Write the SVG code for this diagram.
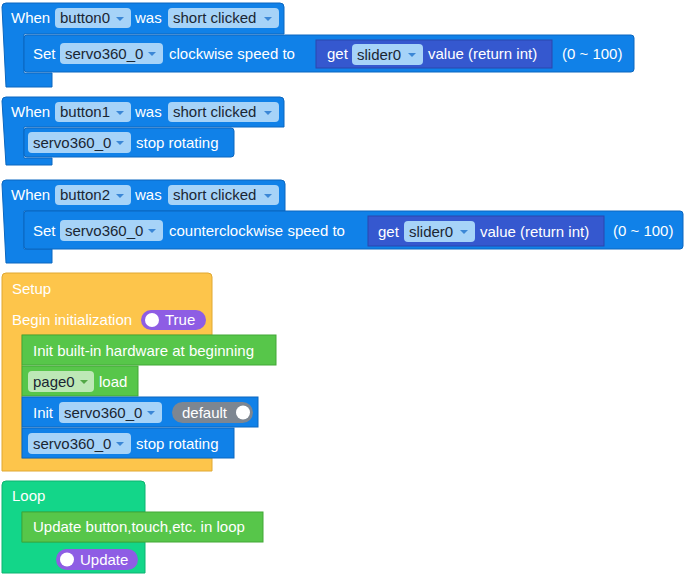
<svg xmlns="http://www.w3.org/2000/svg" width="689" height="580" viewBox="0 0 689 580">
<style>
text{font-family:"Liberation Sans",Arial,sans-serif;font-size:15px;fill:#fff}
text.d{fill:#1a2633}
.blue{fill:#1081e8;stroke:#0b67c0;stroke-width:1}
.dk{fill:#3558cf;stroke:#2a47ad;stroke-width:1}
.or{fill:#fdc54b;stroke:#e0a832;stroke-width:1}
.gr{fill:#57c64a;stroke:#43a836;stroke-width:1}
.lp{fill:#13d689;stroke:#0db470;stroke-width:1}
.fb{fill:#a6d3f8}
.fg{fill:#bde8b6}
.ar{fill:#3b87d6}
.arg{fill:#52a846}
.pu{fill:#8e5de4}
.gy{fill:#7d8691}
</style>
<defs>
<path id="dd" d="M0,0 h8 l-4,4 z"/>
</defs>
<g id="connectors"></g>
<g id="when0">
<path class="blue" d="M2,7 a4,4 0 0 1 4,-4 h274 a4,4 0 0 1 4,4 v27 h-260 v39 h28 v14 h-46 z"/>
<rect class="blue" x="24" y="35" width="610" height="37" rx="3"/>
<text x="11" y="23">When</text>
<rect class="fb" x="55" y="8" width="76" height="20" rx="4"/><text class="d" x="60" y="23">button0</text><use href="#dd" class="ar" x="116" y="17"/>
<text x="135" y="23">was</text>
<rect class="fb" x="168" y="8" width="111" height="20" rx="4"/><text class="d" x="173" y="23">short clicked</text><use href="#dd" class="ar" x="264" y="17"/>
<text x="33" y="59">Set</text>
<rect class="fb" x="60" y="43" width="103" height="21" rx="4"/><text class="d" x="65" y="59">servo360_0</text><use href="#dd" class="ar" x="148" y="52"/>
<text x="169" y="59">clockwise speed to</text>
<rect class="dk" x="316" y="40" width="236" height="28"/>
<text x="327" y="59">get</text>
<rect class="fb" x="352" y="44" width="71" height="21" rx="4"/><text class="d" x="357" y="60">slider0</text><use href="#dd" class="ar" x="408" y="53"/>
<text x="428" y="59">value (return int)</text>
<text x="562" y="59">(0 ~ 100)</text>
</g>
<g id="when1">
<path class="blue" d="M2,101 a4,4 0 0 1 4,-4 h274 a4,4 0 0 1 4,4 v26 h-260 v31 h28 v7 h-46 z"/>
<rect class="blue" x="24" y="128" width="210" height="29" rx="3"/>
<text x="11" y="117">When</text>
<rect class="fb" x="55" y="102" width="76" height="20" rx="4"/><text class="d" x="60" y="117">button1</text><use href="#dd" class="ar" x="116" y="111"/>
<text x="135" y="117">was</text>
<rect class="fb" x="168" y="102" width="111" height="20" rx="4"/><text class="d" x="173" y="117">short clicked</text><use href="#dd" class="ar" x="264" y="111"/>
<rect class="fb" x="28" y="132" width="103" height="21" rx="4"/><text class="d" x="33" y="148">servo360_0</text><use href="#dd" class="ar" x="116" y="141"/>
<text x="136" y="148">stop rotating</text>
</g>
<g id="when2">
<path class="blue" d="M2,184 a4,4 0 0 1 4,-4 h275 a4,4 0 0 1 4,4 v27 h-261 v38 h28 v14 h-46 z"/>
<rect class="blue" x="24" y="211" width="659" height="38" rx="3"/>
<text x="11" y="200">When</text>
<rect class="fb" x="55" y="185" width="76" height="20" rx="4"/><text class="d" x="60" y="200">button2</text><use href="#dd" class="ar" x="116" y="194"/>
<text x="135" y="200">was</text>
<rect class="fb" x="168" y="185" width="111" height="20" rx="4"/><text class="d" x="173" y="200">short clicked</text><use href="#dd" class="ar" x="264" y="194"/>
<text x="33" y="236">Set</text>
<rect class="fb" x="60" y="220" width="103" height="21" rx="4"/><text class="d" x="65" y="236">servo360_0</text><use href="#dd" class="ar" x="148" y="229"/>
<text x="169" y="236">counterclockwise speed to</text>
<rect class="dk" x="368" y="216" width="236" height="30"/>
<text x="378" y="237">get</text>
<rect class="fb" x="404" y="221" width="71" height="21" rx="4"/><text class="d" x="409" y="237">slider0</text><use href="#dd" class="ar" x="460" y="230"/>
<text x="480" y="237">value (return int)</text>
<text x="613" y="236">(0 ~ 100)</text>
</g>
<g id="setup">
<path class="or" d="M2,277 a4,4 0 0 1 4,-4 h202 a4,4 0 0 1 4,4 v58 h-190 v123 h190 v13 h-210 z"/>
<text x="12" y="294">Setup</text>
<text x="12" y="325">Begin initialization</text>
<rect class="pu" x="141" y="310" width="65" height="20" rx="10"/><circle cx="152" cy="320" r="7" fill="#fff"/><text x="165" y="325">True</text>
</g>
<g id="initHw"><rect class="gr" x="22" y="335" width="254" height="30"/><text x="33" y="356">Init built-in hardware at beginning</text></g>
<g id="page0"><rect class="gr" x="22" y="366" width="116" height="30"/><rect class="fg" x="28" y="371" width="66" height="21" rx="4"/><text class="d" x="33" y="387">page0</text><use href="#dd" class="arg" x="80" y="380"/><text x="99" y="387">load</text></g>
<g id="initServo"><rect class="blue" x="22" y="397" width="236" height="30"/><text x="33" y="418">Init</text><rect class="fb" x="59" y="402" width="103" height="21" rx="4"/><text class="d" x="64" y="418">servo360_0</text><use href="#dd" class="ar" x="147" y="411"/><rect class="gy" x="172" y="402" width="81" height="21" rx="10.5"/><text x="182" y="418">default</text><circle cx="243" cy="412.5" r="7" fill="#fff"/></g>
<g id="stopServo"><rect class="blue" x="22" y="428" width="212" height="30"/><rect class="fb" x="28" y="433" width="103" height="21" rx="4"/><text class="d" x="33" y="449">servo360_0</text><use href="#dd" class="ar" x="116" y="442"/><text x="136" y="449">stop rotating</text></g>
<g id="loop">
<path class="lp" d="M2,485 a4,4 0 0 1 4,-4 h135 a4,4 0 0 1 4,4 v27 h-123 v30 h123 v31 h-143 z"/>
<text x="12" y="501">Loop</text>
<rect class="pu" x="56" y="549" width="82" height="21" rx="10.5"/><circle cx="67" cy="559.5" r="7" fill="#fff"/><text x="80" y="565">Update</text>
</g>
<g id="update"><rect class="gr" x="22" y="512" width="241" height="30"/><text x="33" y="532">Update button,touch,etc. in loop</text></g>
</svg>
